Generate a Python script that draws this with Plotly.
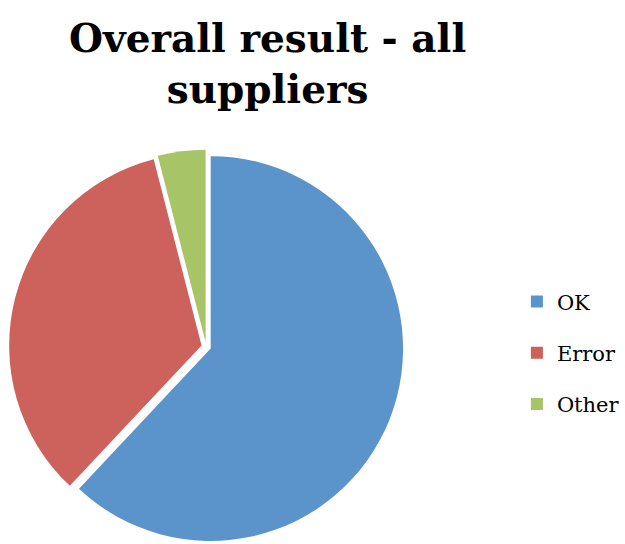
import plotly.graph_objects as go

labels = ["OK", "Error", "Other"]
values = [62, 34, 4]
colors = ["#5b94cb", "#cd625d", "#a7c467"]
title_line1 = "Overall result - all"
title_line2 = "suppliers"

fig = go.Figure()
fig.add_trace(go.Pie(
    labels=labels, values=values, sort=False, direction="clockwise", rotation=0,
    marker=dict(colors=colors, line=dict(width=0)),
    pull=[0.025, 0.025, 0.025], textinfo="none", hoverinfo="label+percent",
    showlegend=False, domain=dict(x=[0, 0.675], y=[0, 0.725]),
))
for i, (lab, col) in enumerate(zip(labels, colors)):
    fig.add_trace(go.Scatter(
        x=[None], y=[None], mode="markers", name=lab, legendgroup=lab,
        marker=dict(symbol="square", size=12, color=col),
    ))

fig.add_annotation(
    text="<b>" + title_line1 + "<br>" + title_line2 + "</b>",
    xref="paper", yref="paper", x=0.438, y=1, xanchor="center", yanchor="top",
    yshift=-13, showarrow=False, align="center",
    font=dict(family="DejaVu Serif", size=39, color="black"),
)

fig.update_layout(
    width=625, height=544,
    margin=dict(l=0, r=0, t=0, b=0),
    paper_bgcolor="white", plot_bgcolor="white",
    xaxis=dict(visible=False), yaxis=dict(visible=False),
    legend=dict(x=0.846, y=0.483, xanchor="left", yanchor="top", tracegroupgap=21,
                font=dict(family="DejaVu Serif", size=21, color="black"),
                itemwidth=30, bgcolor="rgba(0,0,0,0)"),
)
fig.write_html("out.html")
